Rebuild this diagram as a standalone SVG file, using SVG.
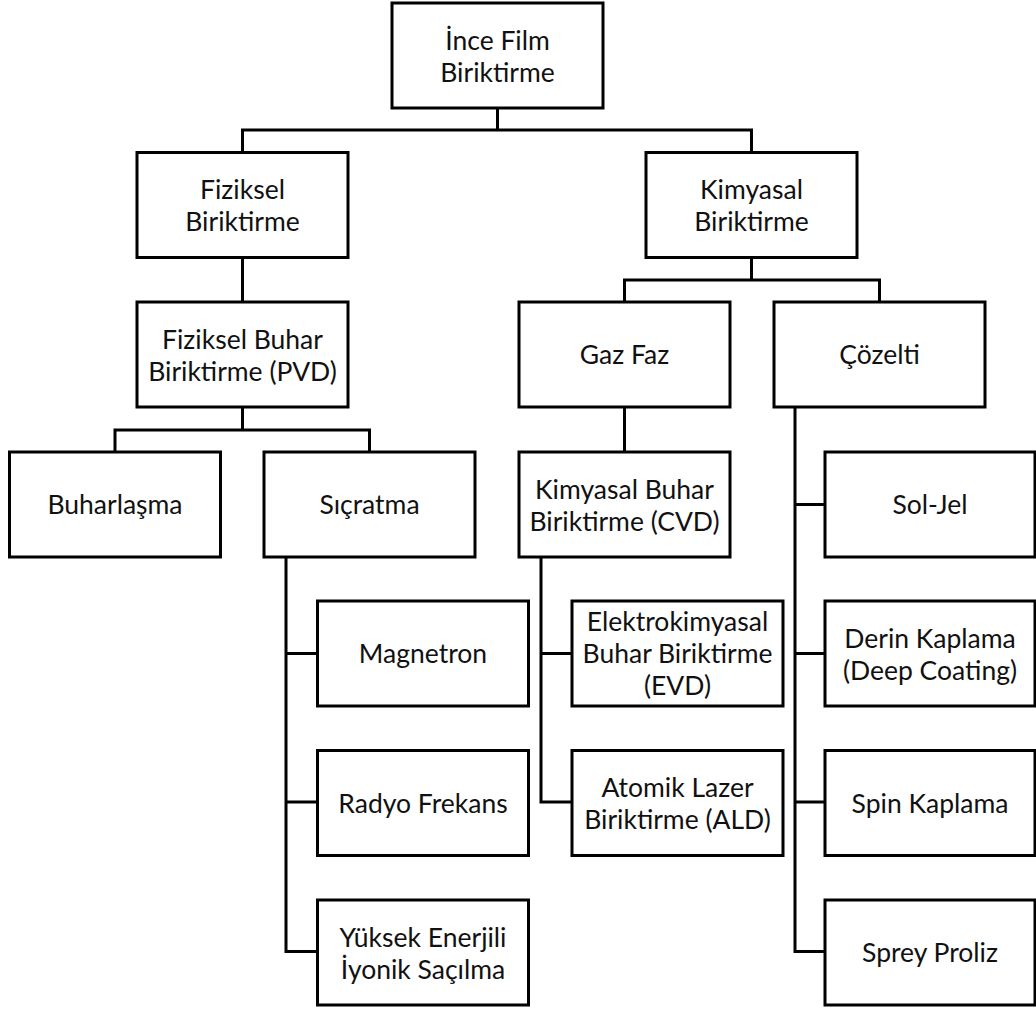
<svg xmlns="http://www.w3.org/2000/svg" width="1036" height="1009" viewBox="0 0 1036 1009">
<style>
.box{fill:#fff;stroke:#000;stroke-width:3}
.c{fill:none;stroke:#000;stroke-width:3;stroke-linejoin:miter;stroke-linecap:square}
text{font-family:Lato,"Open Sans","Liberation Sans",sans-serif;font-size:26.5px;fill:#111;text-anchor:middle}
</style>
<rect width="1036" height="1009" fill="#fff"/>
<g id="connectors">
<path class="c" d="M497.5,108 V130 M242.5,152.5 V130 H751.5 V152.5"/>
<path class="c" d="M242.5,257.5 V302"/>
<path class="c" d="M242.5,407 V430 M115,452 V430 H369.5 V452"/>
<path class="c" d="M751.5,257.5 V280 M624.5,302 V280 H879.5 V302"/>
<path class="c" d="M624.5,407 V452"/>
<path class="c" d="M286,557 V951.5 H317.5 M286,653.5 H317.5 M286,802 H317.5"/>
<path class="c" d="M541,557 V802 H572 M541,653.5 H572"/>
<path class="c" d="M795,407 V951.5 H825 M795,504.5 H825 M795,653.5 H825 M795,802 H825"/>
</g>
<g id="n-root"><rect class="box" x="392" y="3" width="211" height="105"/><text x="497.5" y="49.5">İnce Film</text><text x="497.5" y="81.5">Biriktirme</text></g>
<g id="n-fiziksel"><rect class="box" x="137" y="152.5" width="211" height="105"/><text x="242.5" y="199">Fiziksel</text><text x="242.5" y="231">Biriktirme</text></g>
<g id="n-kimyasal"><rect class="box" x="646" y="152.5" width="211" height="105"/><text x="751.5" y="199">Kimyasal</text><text x="751.5" y="231">Biriktirme</text></g>
<g id="n-pvd"><rect class="box" x="137" y="302" width="211" height="105"/><text x="242.5" y="348.5">Fiziksel Buhar</text><text x="242.5" y="380.5">Biriktirme (PVD)</text></g>
<g id="n-gaz"><rect class="box" x="519" y="302" width="211" height="105"/><text x="624.5" y="364">Gaz Faz</text></g>
<g id="n-cozelti"><rect class="box" x="774" y="302" width="211" height="105"/><text x="879.5" y="364">Çözelti</text></g>
<g id="n-buharlasma"><rect class="box" x="9.5" y="452" width="211" height="105"/><text x="115" y="514">Buharlaşma</text></g>
<g id="n-sicratma"><rect class="box" x="264" y="452" width="211" height="105"/><text x="369.5" y="514">Sıçratma</text></g>
<g id="n-cvd"><rect class="box" x="519" y="452" width="211" height="105"/><text x="624.5" y="498.5">Kimyasal Buhar</text><text x="624.5" y="530.5">Biriktirme (CVD)</text></g>
<g id="n-soljel"><rect class="box" x="825" y="452" width="210" height="105"/><text x="930" y="514">Sol-Jel</text></g>
<g id="n-magnetron"><rect class="box" x="317.5" y="601" width="211" height="105"/><text x="423" y="663">Magnetron</text></g>
<g id="n-evd"><rect class="box" x="572" y="601" width="211" height="105"/><text x="677.5" y="631">Elektrokimyasal</text><text x="677.5" y="663">Buhar Biriktirme</text><text x="677.5" y="695">(EVD)</text></g>
<g id="n-derin"><rect class="box" x="825" y="601" width="210" height="105"/><text x="930" y="647.5">Derin Kaplama</text><text x="930" y="679.5">(Deep Coating)</text></g>
<g id="n-radyo"><rect class="box" x="317.5" y="750.5" width="211" height="105"/><text x="423" y="812.5">Radyo Frekans</text></g>
<g id="n-ald"><rect class="box" x="572" y="750.5" width="211" height="105"/><text x="677.5" y="797">Atomik Lazer</text><text x="677.5" y="829">Biriktirme (ALD)</text></g>
<g id="n-spin"><rect class="box" x="825" y="750.5" width="210" height="105"/><text x="930" y="812.5">Spin Kaplama</text></g>
<g id="n-yuksek"><rect class="box" x="317.5" y="900" width="211" height="105"/><text x="423" y="946.5">Yüksek Enerjili</text><text x="423" y="978.5">İyonik Saçılma</text></g>
<g id="n-sprey"><rect class="box" x="825" y="900" width="210" height="105"/><text x="930" y="962">Sprey Proliz</text></g>
</svg>
